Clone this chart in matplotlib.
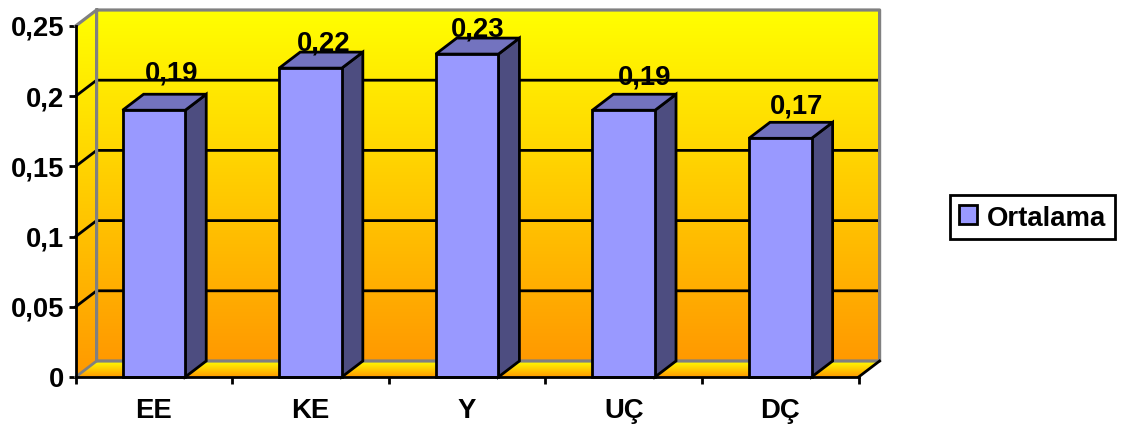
import numpy as np
import matplotlib
matplotlib.use("Agg")
import matplotlib.pyplot as plt
from matplotlib.colors import LinearSegmentedColormap
from matplotlib.patches import Polygon, Patch

categories = ['EE', 'KE', 'Y', 'UÇ', 'DÇ']
values = [0.19, 0.22, 0.23, 0.19, 0.17]
value_labels = ['0,19', '0,22', '0,23', '0,19', '0,17']
y_ticks = [0, 0.05, 0.1, 0.15, 0.2, 0.25]
y_tick_labels = ['0', '0,05', '0,1', '0,15', '0,2', '0,25']

plt.rcParams['font.family'] = ['Liberation Sans', 'DejaVu Sans']
plt.rcParams['font.weight'] = 'bold'
W, H = 1127, 428
FS = 19.8
LW = 2.0

fig = plt.figure(figsize=(W / 100, H / 100), dpi=100)
ax = fig.add_axes([75.6 / W, (H - 377) / H, 783 / W, 351 / H])
ax.patch.set_visible(False)

# depth of the fake 3d box in data units
dx = 21 / 156.6
dy = 16 / 1404
x0, x1 = -0.5, 4.5
top = 0.25

wall_cmap = LinearSegmentedColormap.from_list('wall', ['#FFFF00', '#FF9900'])
grad = np.linspace(0, 1, 256).reshape(-1, 1)

# back wall
ax.imshow(grad, cmap=wall_cmap, aspect='auto', origin='upper', zorder=1, clip_on=False,
          extent=(x0 + dx, x1 + dx, dy, top + dy))
# left wall
left = Polygon([(x0, 0), (x0 + dx, dy), (x0 + dx, top + dy), (x0, top)],
               closed=True, transform=ax.transData, fill=False, edgecolor='none')
ax.add_patch(left)
left.set_clip_on(False)
im = ax.imshow(grad, cmap=wall_cmap, aspect='auto', origin='upper', zorder=1,
               extent=(x0, x0 + dx, 0, top + dy))
im.set_clip_path(left)
im.set_clip_box(fig.bbox)
# floor
floor = Polygon([(x0, 0), (x1, 0), (x1 + dx, dy), (x0 + dx, dy)],
                closed=True, transform=ax.transData, fill=False, edgecolor='none')
ax.add_patch(floor)
floor.set_clip_on(False)
im2 = ax.imshow(grad, cmap=wall_cmap, aspect='auto', origin='upper', zorder=1,
                extent=(x0, x1 + dx, 0, dy))
im2.set_clip_path(floor)
im2.set_clip_box(fig.bbox)

# grid lines across the walls
for t in y_ticks[1:-1]:
    ax.plot([x0, x0 + dx, x1 + dx], [t, t + dy, t + dy], color='black', lw=LW,
            zorder=2, clip_on=False, solid_joinstyle='round')

# grey outline of the walls
ax.plot([x0, x0 + dx, x1 + dx, x1 + dx, x0 + dx, x0 + dx], [top, top + dy, top + dy, dy, dy, top + dy],
        color='#808080', lw=LW + 0.3, zorder=2, clip_on=False)
ax.plot([x0, x0 + dx], [0, dy], color='#808080', lw=LW, zorder=2, clip_on=False)
ax.plot([x1, x1 + dx], [0, dy], color='black', lw=LW, zorder=2, clip_on=False)

# bars with side and top faces
xs = np.arange(len(categories))
bw = 0.4
ax.bar(xs, values, width=bw, color='#9999FF', edgecolor='black', linewidth=LW, zorder=4, clip_on=False)
for x, v in zip(xs, values):
    l, r = x - bw / 2, x + bw / 2
    ax.add_patch(Polygon([(r, 0), (r + dx, dy), (r + dx, v + dy), (r, v)], closed=True,
                         facecolor='#4D4D80', edgecolor='black', lw=LW, zorder=3, clip_on=False))
    ax.add_patch(Polygon([(l, v), (l + dx, v + dy), (r + dx, v + dy), (r, v)], closed=True,
                         facecolor='#7373BF', edgecolor='black', lw=LW, zorder=3, clip_on=False))

# value labels sit slightly to the right of the bar centre
label_dx = [18, 13, 11, 21, 16]
label_dy = [14, 2, 2, 10, 9]
for x, v, s, ox, oy in zip(xs, values, value_labels, label_dx, label_dy):
    ax.annotate(s, (x, v + dy), xytext=(ox * 0.72, oy * 0.72), textcoords='offset points',
                ha='center', va='baseline', fontsize=FS, zorder=6, annotation_clip=False)

ax.set_xlim(x0, x1)
ax.set_ylim(0, top)
ax.set_yticks(y_ticks)
ax.set_yticklabels(y_tick_labels, fontsize=FS)
ax.set_xticks(np.arange(x0, x1 + 1))
ax.set_xticklabels([])
ax.set_xticks(xs, minor=True)
ax.set_xticklabels(categories, minor=True, fontsize=FS)
ax.tick_params(axis='y', length=5, width=LW, pad=3)
ax.tick_params(axis='x', which='major', length=5, width=LW)
ax.tick_params(axis='x', which='minor', length=0, pad=15)
ax.spines[['top', 'right']].set_visible(False)
ax.spines[['left', 'bottom']].set_linewidth(LW)
ax.spines[['left', 'bottom']].set_zorder(5)

leg = fig.legend(handles=[Patch(facecolor='#9999FF', edgecolor='black', linewidth=LW, label='Ortalama')],
                 loc='center', bbox_to_anchor=(1032.5 / W, (H - 217) / H), fontsize=FS,
                 fancybox=False, framealpha=1, edgecolor='black', handlelength=0.65,
                 handleheight=0.65, handletextpad=0.35, borderpad=0.33, borderaxespad=0)
leg.get_frame().set_linewidth(LW)
leg.get_frame().set_height(0)
leg.get_texts()[0].set_y(-2)

fig.savefig('out.png', dpi=100)
